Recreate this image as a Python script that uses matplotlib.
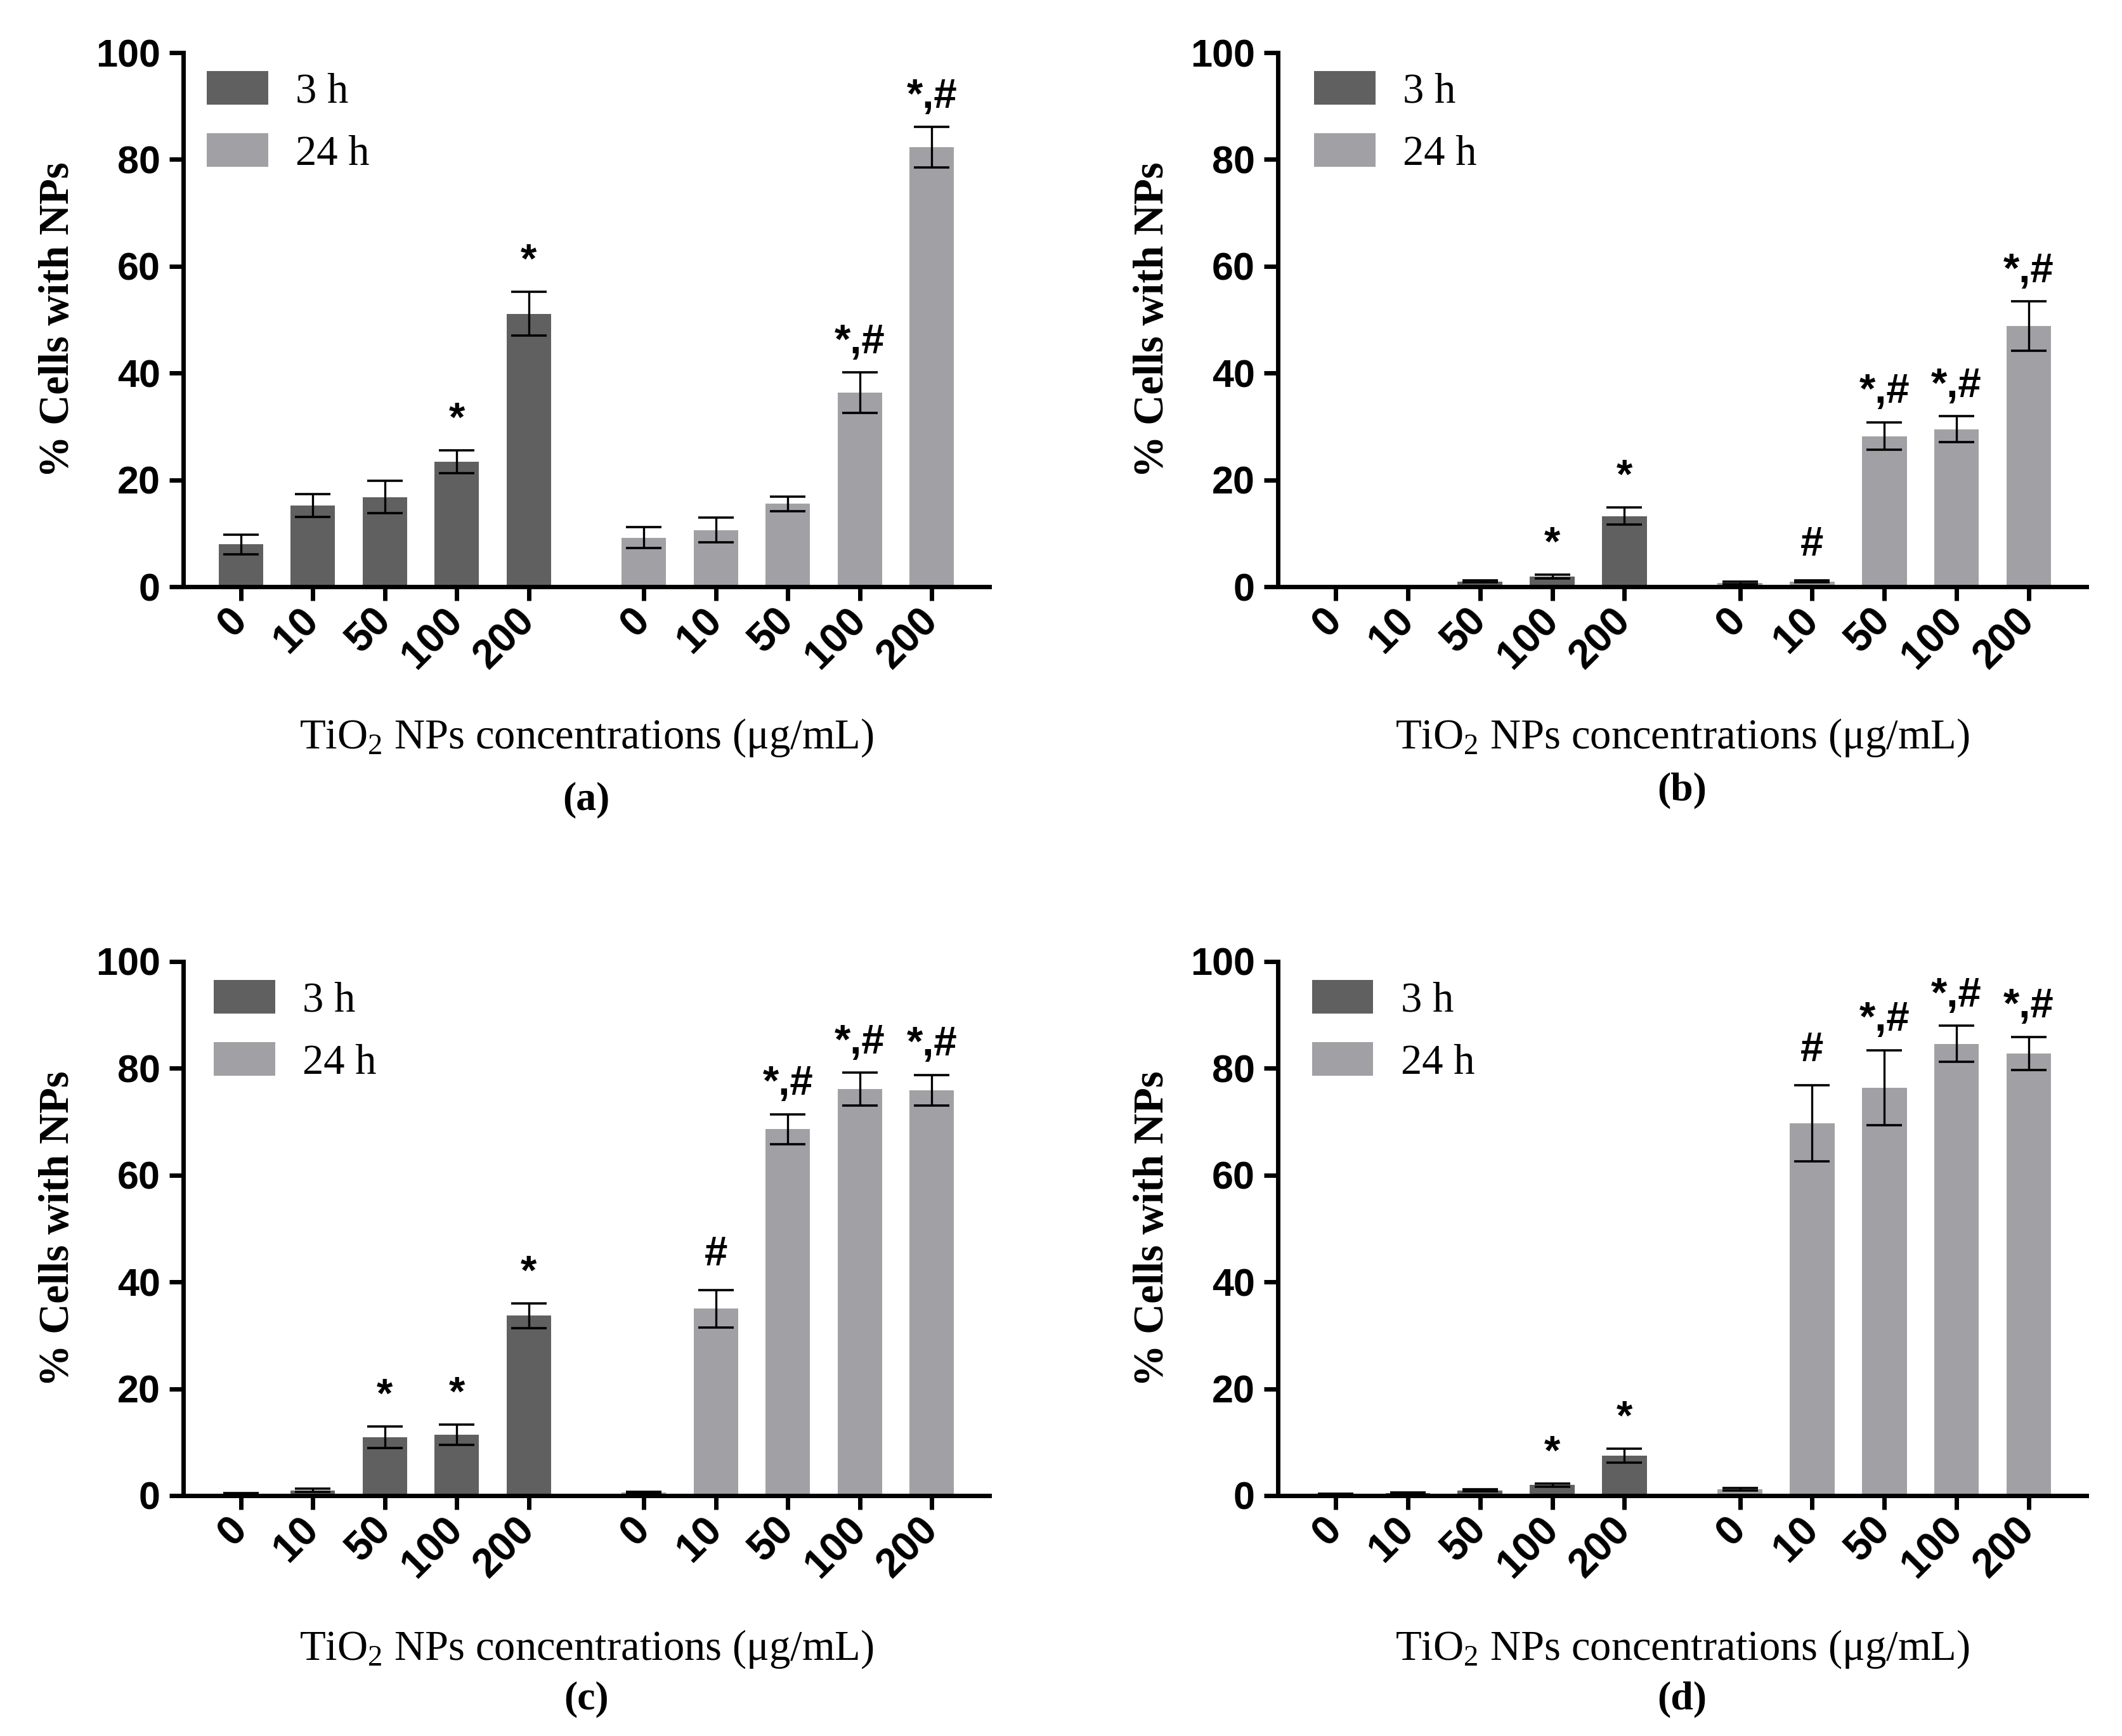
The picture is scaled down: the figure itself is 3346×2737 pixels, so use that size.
import numpy as np
import matplotlib
matplotlib.use("Agg")
import matplotlib.pyplot as plt

plt.rcParams['mathtext.fontset'] = 'custom'
plt.rcParams['mathtext.rm'] = 'Liberation Serif'
plt.rcParams['mathtext.default'] = 'regular'

# ---------------- data ----------------
conc_labels = ['0', '10', '50', '100', '200']
series_names = ['3 h', '24 h']

a_3h = [7.9, 15.2, 16.8, 23.4, 51.1]
a_3h_err = [1.8, 2.1, 3.0, 2.1, 4.1]
a_24h = [9.2, 10.6, 15.5, 36.3, 82.3]
a_24h_err = [2.0, 2.3, 1.4, 3.8, 3.8]
a_3h_sig = ['', '', '', '*', '*']
a_24h_sig = ['', '', '', '*,#', '*,#']

b_3h = [0.0, 0.0, 1.0, 1.9, 13.2]
b_3h_err = [0.0, 0.0, 0.2, 0.3, 1.6]
b_24h = [0.7, 1.0, 28.2, 29.5, 48.8]
b_24h_err = [0.2, 0.2, 2.6, 2.4, 4.6]
b_3h_sig = ['', '', '', '*', '*']
b_24h_sig = ['', '#', '*,#', '*,#', '*,#']

c_3h = [0.4, 1.0, 10.9, 11.4, 33.7]
c_3h_err = [0.1, 0.3, 2.0, 1.9, 2.3]
c_24h = [0.6, 35.0, 68.6, 76.1, 75.9]
c_24h_err = [0.1, 3.5, 2.8, 3.1, 2.9]
c_3h_sig = ['', '', '*', '*', '*']
c_24h_sig = ['', '#', '*,#', '*,#', '*,#']

d_3h = [0.3, 0.5, 1.0, 2.0, 7.5]
d_3h_err = [0.1, 0.1, 0.2, 0.3, 1.3]
d_24h = [1.2, 69.7, 76.4, 84.6, 82.8]
d_24h_err = [0.2, 7.1, 7.0, 3.4, 3.1]
d_3h_sig = ['', '', '', '*', '*']
d_24h_sig = ['', '#', '*,#', '*,#', '*,#']

panel_letters = ['(a)', '(b)', '(c)', '(d)']
xlabel_text = 'TiO$_2$ NPs concentrations (μg/mL)'
ylabel_text = '% Cells with NPs'

# ---------------- style ----------------
dark = '#606060'
light = '#a1a1a5'
sans = 'Liberation Sans'
serif = 'Liberation Serif'
W, H = 3346, 2737
fig = plt.figure(figsize=(W / 100, H / 100), dpi=100)

def rect(l, r, b, t):
    return [l / W, 1 - b / H, (r - l) / W, (b - t) / H]

positions = [rect(289, 1560, 925, 83), rect(2015, 3290, 925, 83),
             rect(289, 1560, 2358, 1516), rect(2015, 3290, 2358, 1516)]
xlab_y = [-0.283, -0.283, -0.288, -0.288]
let_y = [-0.400, -0.382, -0.382, -0.382]
leg_x = [0.029, 0.045, 0.038, 0.042]

panels = [
    (a_3h, a_3h_err, a_24h, a_24h_err, a_3h_sig, a_24h_sig),
    (b_3h, b_3h_err, b_24h, b_24h_err, b_3h_sig, b_24h_sig),
    (c_3h, c_3h_err, c_24h, c_24h_err, c_3h_sig, c_24h_sig),
    (d_3h, d_3h_err, d_24h, d_24h_err, d_3h_sig, d_24h_sig),
]

x3 = np.arange(5, dtype=float)
x24 = x3 + 5.6
bw = 0.62
lw_axis = 5.0

for i, (v3, e3, v24, e24, s3, s24) in enumerate(panels):
    ax = fig.add_axes(positions[i])
    b1 = ax.bar(x3, v3, bw, color=dark, label=series_names[0], zorder=2)
    b2 = ax.bar(x24, v24, bw, color=light, label=series_names[1], zorder=2)
    for xs, vs, es in ((x3, v3, e3), (x24, v24, e24)):
        ax.errorbar(xs, vs, yerr=es, fmt='none', ecolor='black', elinewidth=2.4,
                    capsize=20, capthick=2.6, zorder=3)
    for xs, vs, es, ss in ((x3, v3, e3, s3), (x24, v24, e24, s24)):
        for xx, vv, ee, st in zip(xs, vs, es, ss):
            if st:
                off = 4.6 if st == '#' else 3.6
                ax.text(xx, vv + ee + off, st, ha='center', va='baseline',
                        fontsize=47, fontweight='bold', family=sans)
    ax.set_ylim(0, 100)
    ax.set_xlim(-0.8, 10.4)
    ax.set_yticks([0, 20, 40, 60, 80, 100])
    ax.set_xticks(np.concatenate([x3, x24]))
    ax.set_xticklabels(conc_labels + conc_labels, rotation=45, ha='right',
                       va='center', rotation_mode='anchor',
                       fontsize=46, fontweight='bold', family=sans)
    for lab in ax.get_yticklabels():
        lab.set_fontsize(44)
        lab.set_fontweight('bold')
        lab.set_family(sans)
    ax.tick_params(axis='both', direction='out', length=16, width=lw_axis, pad=10)
    ax.tick_params(axis='x', pad=16)
    for sp in ['top', 'right']:
        ax.spines[sp].set_visible(False)
    for sp in ['left', 'bottom']:
        ax.spines[sp].set_linewidth(lw_axis)
    ax.set_ylabel(ylabel_text, fontsize=48, fontweight='bold', family=serif,
                  va='center')
    ax.yaxis.set_label_coords(-0.155, 0.5)
    ax.text(0.5, xlab_y[i], xlabel_text, transform=ax.transAxes, ha='center',
            va='center', fontsize=48, family=serif)
    ax.text(0.5, let_y[i], panel_letters[i], transform=ax.transAxes, ha='center',
            va='center', fontsize=46, fontweight='bold', family=serif)
    ax.legend(handles=[b1, b2], loc='upper left', bbox_to_anchor=(leg_x[i], 0.966),
              frameon=False, prop={'family': serif, 'size': 48},
              handlelength=1.45, handleheight=0.85, handletextpad=0.65,
              labelspacing=0.52, borderpad=0, borderaxespad=0)

fig.savefig('out.png', dpi=100, facecolor='white')
